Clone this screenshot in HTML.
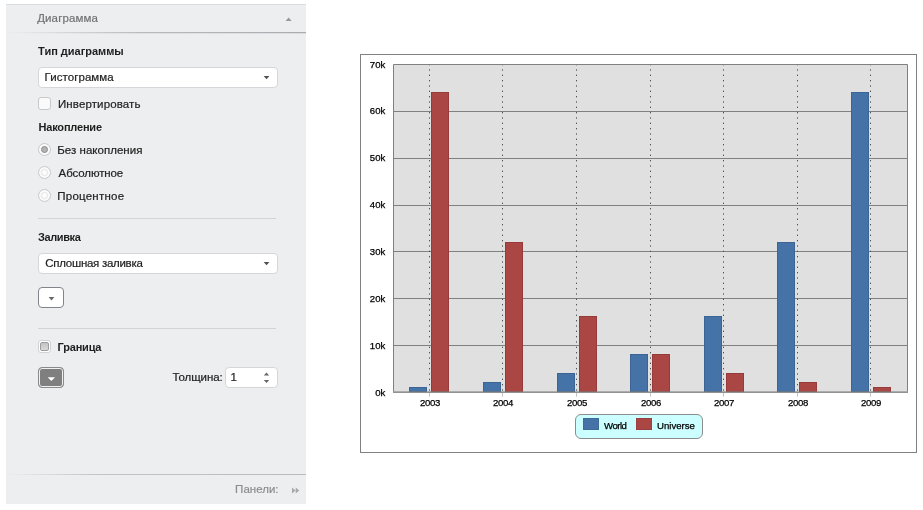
<!DOCTYPE html>
<html><head><meta charset="utf-8">
<style>
html,body{margin:0;padding:0;background:#fff;}
body{width:923px;height:510px;position:relative;overflow:hidden;font-family:"Liberation Sans",sans-serif;font-size:11.5px;color:#2a2a2a;}
.abs{position:absolute;}
#panel{left:6px;top:4px;width:300px;height:500px;background:#edeeef;}
.t{position:absolute;white-space:nowrap;line-height:14px;-webkit-text-stroke:0.2px currentColor;}
.sel{position:absolute;background:#fff;border:1px solid #d4d6d9;border-radius:4px;box-sizing:border-box;}
.arr{position:absolute;width:0;height:0;border-left:3px solid transparent;border-right:3px solid transparent;border-top:4px solid #444;}
.arru{position:absolute;width:0;height:0;border-left:3px solid transparent;border-right:3px solid transparent;border-bottom:4px solid #444;}
.cb{position:absolute;width:11px;height:11px;border:1px solid #c6c8cb;border-radius:3px;background:#fafafa;}
.rb{position:absolute;width:11px;height:11px;border:1px solid #c6c8cb;border-radius:50%;background:#fafafa;}
.rbi{position:absolute;width:5px;height:5px;border:1px solid #e2e3e5;border-radius:50%;background:#fdfdfd;}
.hr{position:absolute;height:1px;background:#d2d3d5;}
svg text{stroke:#000;stroke-width:0.25px;}
.btn{position:absolute;width:24px;height:19px;border:1px solid #80858c;border-radius:4px;background:#fff;}
</style></head><body>
<div id="panel" class="abs"></div>
<div class="abs" style="left:6px;top:4px;width:300px;height:1px;background:#d9dadc"></div>
<svg class="abs" style="left:285px;top:16px" width="8" height="6"><path d="M0.6 5L3.6 1.5L6.6 5Z" fill="#979797"/></svg>
<div class="abs" style="left:6px;top:32px;width:300px;height:1px;background:linear-gradient(to right,rgba(172,173,176,0),#b9babd 45%,#aaabae)"></div>
<div class="abs" style="left:6px;top:33px;width:300px;height:1px;background:linear-gradient(to right,rgba(220,221,224,0),#e0e1e3 45%,#dcdde0)"></div>

<div class="sel" style="left:38px;top:67px;width:240px;height:21px"></div>
<svg class="abs" style="left:263px;top:75px" width="8" height="6"><path d="M0.7 1L6.4 1L3.55 4.3Z" fill="#505050"/></svg>
<div class="cb" style="left:38px;top:97px"></div>

<div class="rb" style="left:38px;top:143px"></div>
<div class="abs" style="left:41px;top:146px;width:5px;height:5px;border:1px solid #8c8c8c;border-radius:50%;background:#b4b4b4"></div>
<div class="rb" style="left:38px;top:166px"></div><div class="rbi" style="left:41px;top:169px"></div>
<div class="rb" style="left:38px;top:189px"></div><div class="rbi" style="left:41px;top:192px"></div>

<div class="hr" style="left:38px;top:218px;width:238px"></div>

<div class="sel" style="left:38px;top:253px;width:240px;height:21px"></div>
<svg class="abs" style="left:263px;top:261px" width="8" height="6"><path d="M0.7 1L6.4 1L3.55 4.3Z" fill="#505050"/></svg>

<div class="btn" style="left:38px;top:287px"></div>
<svg class="abs" style="left:48px;top:296px" width="8" height="6"><path d="M0.6 1L6.4 1L3.5 4.6Z" fill="#6a6a6a"/></svg>

<div class="hr" style="left:38px;top:328px;width:238px"></div>

<div class="cb" style="left:38px;top:340px;background:#fff;border-color:#d0d2d5"></div>
<div class="abs" style="left:40px;top:342px;width:7px;height:7px;border:1px solid #9c9c9c;border-radius:2px;background:linear-gradient(#c2c2c2,#dadada)"></div>

<div class="btn" style="left:38px;top:367px;background:#7f7f7f;box-shadow:inset 0 0 0 1px #f0f0f0;border-color:#8a8a8a"></div>
<svg class="abs" style="left:47px;top:376px" width="10" height="6"><path d="M0.6 1.3L8.1 1.3L4.35 4.9Z" fill="#fff"/></svg>

<div class="sel" style="left:225px;top:367px;width:53px;height:21px"></div>
<svg class="abs" style="left:263px;top:371px" width="8" height="14"><path d="M0.8 4.5L3.5 1.4L6.2 4.5ZM0.8 9L3.5 12.1L6.2 9Z" fill="#666"/></svg>

<div class="abs" style="left:6px;top:474px;width:300px;height:1px;background:linear-gradient(to right,rgba(190,191,193,0),#c3c4c6 30%,#b9babc)"></div>
<svg class="abs" style="left:291px;top:487px" width="9" height="7"><path d="M1 0.5L4.5 3.5L1 6.5ZM4.7 0.5L8.2 3.5L4.7 6.5Z" fill="#a8a8a8"/></svg>
<div class="t" style="left:37.2px;top:10.7px;font-size:11.5px;color:#737373;letter-spacing:0.11px;">Диаграмма</div>
<div class="t" style="left:38.1px;top:44.0px;font-size:11px;color:#1e1e1e;font-weight:bold;-webkit-text-stroke:0;letter-spacing:-0.01px;">Тип диаграммы</div>
<div class="t" style="left:44.6px;top:69.9px;font-size:11.5px;color:#222;letter-spacing:0.06px;">Гистограмма</div>
<div class="t" style="left:57.9px;top:96.8px;font-size:11.5px;color:#222;letter-spacing:0.13px;">Инвертировать</div>
<div class="t" style="left:38.5px;top:119.8px;font-size:11px;color:#1e1e1e;font-weight:bold;-webkit-text-stroke:0;letter-spacing:-0.19px;">Накопление</div>
<div class="t" style="left:57.3px;top:142.7px;font-size:11.5px;color:#222;letter-spacing:0.02px;">Без накопления</div>
<div class="t" style="left:58.6px;top:165.6px;font-size:11.5px;color:#222;letter-spacing:-0.11px;">Абсолютное</div>
<div class="t" style="left:57.3px;top:188.7px;font-size:11.5px;color:#222;letter-spacing:0.23px;">Процентное</div>
<div class="t" style="left:38.0px;top:230.0px;font-size:11px;color:#1e1e1e;font-weight:bold;-webkit-text-stroke:0;letter-spacing:-0.38px;">Заливка</div>
<div class="t" style="left:45.3px;top:255.9px;font-size:11.5px;color:#222;letter-spacing:-0.28px;">Сплошная заливка</div>
<div class="t" style="left:57.6px;top:339.8px;font-size:11px;color:#1e1e1e;font-weight:bold;-webkit-text-stroke:0;letter-spacing:-0.2px;">Граница</div>
<div class="t" style="left:172.4px;top:370.0px;font-size:11.5px;color:#222;letter-spacing:-0.06px;">Толщина:</div>
<div class="t" style="left:230.5px;top:370.0px;font-size:11.5px;color:#222;">1</div>
<div class="t" style="left:235.1px;top:481.8px;font-size:11.5px;color:#8e8e8e;letter-spacing:0.02px;">Панели:</div>

<svg class="abs" style="left:0;top:0" width="923" height="510" font-family="Liberation Sans, sans-serif" font-size="9.6">
<rect x="360.5" y="54.5" width="556" height="398" fill="#fff" stroke="#808080"/>
<rect x="393.5" y="64.5" width="514.0" height="327.0" fill="#e0e0e0" stroke="none"/>
<g stroke="#808080" stroke-width="1"><line x1="393.5" x2="907.5" y1="345.5" y2="345.5"/><line x1="393.5" x2="907.5" y1="298.5" y2="298.5"/><line x1="393.5" x2="907.5" y1="251.5" y2="251.5"/><line x1="393.5" x2="907.5" y1="205.5" y2="205.5"/><line x1="393.5" x2="907.5" y1="158.5" y2="158.5"/><line x1="393.5" x2="907.5" y1="111.5" y2="111.5"/></g>
<g stroke="#505050" stroke-width="1" stroke-dasharray="1.3333 4"><line x1="429.5" x2="429.5" y1="64" y2="391.5"/><line x1="502.5" x2="502.5" y1="64" y2="391.5"/><line x1="576.5" x2="576.5" y1="64" y2="391.5"/><line x1="650.5" x2="650.5" y1="64" y2="391.5"/><line x1="723.5" x2="723.5" y1="64" y2="391.5"/><line x1="797.5" x2="797.5" y1="64" y2="391.5"/><line x1="870.5" x2="870.5" y1="64" y2="391.5"/></g>
<g><rect x="409.5" y="387.5" width="17" height="4.0" fill="#4572a7" stroke="#3c6494"/><rect x="431.5" y="92.5" width="17" height="299.0" fill="#aa4643" stroke="#963b39"/><rect x="483.5" y="382.5" width="17" height="9.0" fill="#4572a7" stroke="#3c6494"/><rect x="505.5" y="242.5" width="17" height="149.0" fill="#aa4643" stroke="#963b39"/><rect x="557.5" y="373.5" width="17" height="18.0" fill="#4572a7" stroke="#3c6494"/><rect x="579.5" y="316.5" width="17" height="75.0" fill="#aa4643" stroke="#963b39"/><rect x="630.5" y="354.5" width="17" height="37.0" fill="#4572a7" stroke="#3c6494"/><rect x="652.5" y="354.5" width="17" height="37.0" fill="#aa4643" stroke="#963b39"/><rect x="704.5" y="316.5" width="17" height="75.0" fill="#4572a7" stroke="#3c6494"/><rect x="726.5" y="373.5" width="17" height="18.0" fill="#aa4643" stroke="#963b39"/><rect x="777.5" y="242.5" width="17" height="149.0" fill="#4572a7" stroke="#3c6494"/><rect x="799.5" y="382.5" width="17" height="9.0" fill="#aa4643" stroke="#963b39"/><rect x="851.5" y="92.5" width="17" height="299.0" fill="#4572a7" stroke="#3c6494"/><rect x="873.5" y="387.5" width="17" height="4.0" fill="#aa4643" stroke="#963b39"/></g><path d="M393.5 391.5V64.5H907.5V391.5" fill="none" stroke="#808080"/><rect x="393.0" y="391.4" width="515.0" height="1.45" fill="#808080"/>
<g fill="#000"><text x="385.3" y="396" text-anchor="end">0k</text><text x="385.3" y="349" text-anchor="end">10k</text><text x="385.3" y="302" text-anchor="end">20k</text><text x="385.3" y="255" text-anchor="end">30k</text><text x="385.3" y="208" text-anchor="end">40k</text><text x="385.3" y="161" text-anchor="end">50k</text><text x="385.3" y="114" text-anchor="end">60k</text><text x="385.3" y="68" text-anchor="end">70k</text><text x="429.9" y="406" text-anchor="middle" letter-spacing="-0.35">2003</text><line x1="429.5" x2="429.5" y1="393" y2="396.7" stroke="#c4c4c4" stroke-width="1"/><text x="502.9" y="406" text-anchor="middle" letter-spacing="-0.35">2004</text><line x1="502.5" x2="502.5" y1="393" y2="396.7" stroke="#c4c4c4" stroke-width="1"/><text x="576.9" y="406" text-anchor="middle" letter-spacing="-0.35">2005</text><line x1="576.5" x2="576.5" y1="393" y2="396.7" stroke="#c4c4c4" stroke-width="1"/><text x="650.9" y="406" text-anchor="middle" letter-spacing="-0.35">2006</text><line x1="650.5" x2="650.5" y1="393" y2="396.7" stroke="#c4c4c4" stroke-width="1"/><text x="723.9" y="406" text-anchor="middle" letter-spacing="-0.35">2007</text><line x1="723.5" x2="723.5" y1="393" y2="396.7" stroke="#c4c4c4" stroke-width="1"/><text x="797.9" y="406" text-anchor="middle" letter-spacing="-0.35">2008</text><line x1="797.5" x2="797.5" y1="393" y2="396.7" stroke="#c4c4c4" stroke-width="1"/><text x="870.9" y="406" text-anchor="middle" letter-spacing="-0.35">2009</text><line x1="870.5" x2="870.5" y1="393" y2="396.7" stroke="#c4c4c4" stroke-width="1"/><rect x="575.5" y="414.5" width="127" height="24" rx="5.5" ry="5.5" fill="#ccffff" stroke="#8c8c8c"/>
<rect x="583.5" y="418.5" width="15" height="11" fill="#4572a7" stroke="#3f6a9c"/><text x="604" y="429" letter-spacing="-0.5">World</text>
<rect x="636.5" y="418.5" width="15" height="11" fill="#aa4643" stroke="#9c403d"/><text x="657" y="429" letter-spacing="0">Universe</text></g>
</svg>
</body></html>
